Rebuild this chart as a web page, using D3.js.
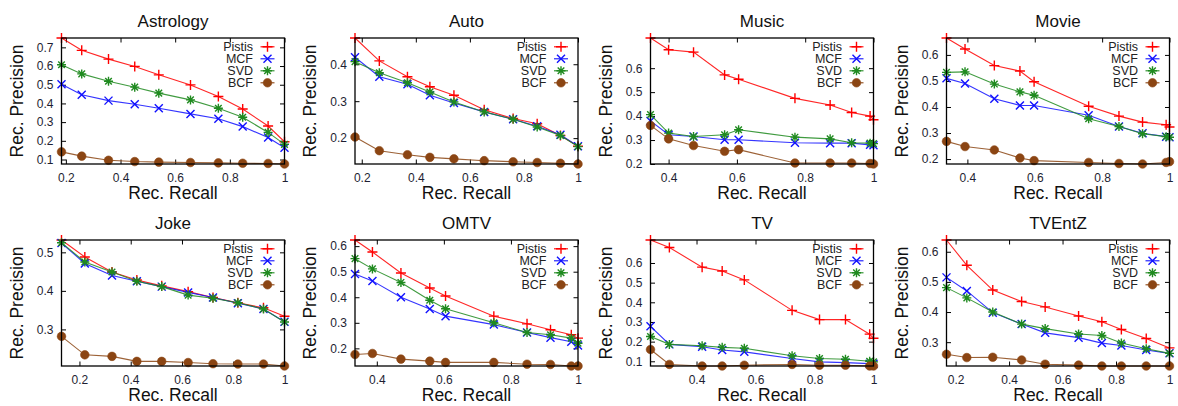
<!DOCTYPE html>
<html>
<head>
<meta charset="utf-8">
<script src="https://cdn.jsdelivr.net/npm/d3@7"></script>
<style>
  body { margin: 0; background: #fff; }
  svg text { font-family: "Liberation Sans", Arial, sans-serif; }
</style>
</head>
<body>
<div id="chart"></div>
<script>
// recall (x) per data set, shared by all 4 methods
const astrologyRecall = [0.184, 0.258, 0.356, 0.452, 0.540, 0.656, 0.758, 0.847, 0.940, 1.0];
const astrologyPistis = [0.750, 0.684, 0.637, 0.598, 0.553, 0.499, 0.437, 0.370, 0.279, 0.195];
const astrologyMCF    = [0.503, 0.446, 0.415, 0.396, 0.374, 0.344, 0.318, 0.276, 0.218, 0.163];
const astrologySVD    = [0.607, 0.558, 0.519, 0.487, 0.455, 0.419, 0.374, 0.326, 0.245, 0.181];
const astrologyBCF    = [0.141, 0.118, 0.096, 0.089, 0.086, 0.084, 0.082, 0.080, 0.079, 0.076];

const autoRecall = [0.175, 0.265, 0.369, 0.452, 0.541, 0.653, 0.760, 0.849, 0.935, 1.0];
const autoPistis = [0.471, 0.409, 0.366, 0.339, 0.316, 0.277, 0.253, 0.239, 0.207, 0.178];
const autoMCF    = [0.419, 0.366, 0.346, 0.316, 0.295, 0.271, 0.251, 0.232, 0.209, 0.178];
const autoSVD    = [0.407, 0.377, 0.350, 0.325, 0.298, 0.271, 0.251, 0.230, 0.207, 0.177];
const autoBCF    = [0.203, 0.166, 0.155, 0.148, 0.144, 0.139, 0.136, 0.134, 0.132, 0.130];

const musicRecall = [0.347, 0.400, 0.473, 0.564, 0.605, 0.770, 0.873, 0.936, 0.990, 1.0];
const musicPistis = [0.726, 0.677, 0.667, 0.572, 0.554, 0.474, 0.446, 0.415, 0.400, 0.385];
const musicMCF    = [0.380, 0.322, 0.315, 0.301, 0.301, 0.289, 0.287, 0.287, 0.280, 0.278];
const musicSVD    = [0.406, 0.329, 0.315, 0.322, 0.343, 0.312, 0.305, 0.289, 0.287, 0.285];
const musicBCF    = [0.361, 0.305, 0.277, 0.253, 0.260, 0.204, 0.204, 0.204, 0.202, 0.200];

const movieRecall = [0.338, 0.393, 0.480, 0.556, 0.598, 0.760, 0.850, 0.920, 0.990, 1.0];
const moviePistis = [0.665, 0.623, 0.559, 0.538, 0.497, 0.403, 0.365, 0.342, 0.332, 0.323];
const movieMCF    = [0.510, 0.490, 0.432, 0.406, 0.406, 0.368, 0.325, 0.299, 0.286, 0.284];
const movieSVD    = [0.533, 0.535, 0.488, 0.458, 0.445, 0.355, 0.325, 0.297, 0.286, 0.284];
const movieBCF    = [0.268, 0.248, 0.235, 0.204, 0.194, 0.187, 0.183, 0.181, 0.187, 0.190];

const jokeRecall = [0.130, 0.221, 0.327, 0.424, 0.521, 0.624, 0.721, 0.818, 0.918, 1.0];
const jokePistis = [0.532, 0.488, 0.449, 0.428, 0.413, 0.398, 0.383, 0.369, 0.356, 0.334];
const jokeMCF    = [0.524, 0.471, 0.440, 0.425, 0.411, 0.396, 0.383, 0.368, 0.353, 0.320];
const jokeSVD    = [0.525, 0.475, 0.449, 0.425, 0.411, 0.389, 0.381, 0.369, 0.353, 0.319];
const jokeBCF    = [0.282, 0.234, 0.230, 0.217, 0.217, 0.214, 0.211, 0.210, 0.210, 0.205];

const omtvRecall = [0.335, 0.387, 0.472, 0.558, 0.605, 0.749, 0.848, 0.918, 0.980, 1.0];
const omtvPistis = [0.624, 0.577, 0.495, 0.436, 0.405, 0.326, 0.296, 0.273, 0.253, 0.240];
const omtvMCF    = [0.491, 0.464, 0.400, 0.354, 0.326, 0.293, 0.262, 0.242, 0.226, 0.211];
const omtvSVD    = [0.551, 0.511, 0.458, 0.388, 0.355, 0.300, 0.262, 0.253, 0.240, 0.220];
const omtvBCF    = [0.176, 0.180, 0.158, 0.150, 0.145, 0.145, 0.138, 0.137, 0.131, 0.131];

const tvRecall = [0.244, 0.308, 0.419, 0.487, 0.562, 0.724, 0.817, 0.905, 0.987, 1.0];
const tvPistis = [0.717, 0.679, 0.579, 0.559, 0.514, 0.359, 0.312, 0.312, 0.238, 0.217];
const tvMCF    = [0.278, 0.186, 0.174, 0.157, 0.148, 0.114, 0.097, 0.093, 0.088, 0.088];
const tvSVD    = [0.226, 0.186, 0.179, 0.171, 0.166, 0.128, 0.114, 0.110, 0.100, 0.097];
const tvBCF    = [0.160, 0.084, 0.076, 0.076, 0.080, 0.084, 0.080, 0.080, 0.076, 0.076];

const tventzRecall = [0.166, 0.242, 0.339, 0.447, 0.535, 0.660, 0.747, 0.820, 0.913, 1.0];
const tventzPistis = [0.639, 0.555, 0.473, 0.435, 0.417, 0.387, 0.368, 0.342, 0.312, 0.281];
const tventzMCF    = [0.515, 0.470, 0.398, 0.360, 0.331, 0.315, 0.297, 0.289, 0.274, 0.263];
const tventzSVD    = [0.481, 0.447, 0.400, 0.360, 0.345, 0.327, 0.322, 0.297, 0.278, 0.263];
const tventzBCF    = [0.260, 0.249, 0.250, 0.241, 0.227, 0.224, 0.221, 0.221, 0.221, 0.221];

// tick labels
const xTicksWide   = [0.2, 0.4, 0.6, 0.8, 1];
const xTicksNarrow = [0.4, 0.6, 0.8, 1];
const astrologyYTicks = [0.1, 0.2, 0.3, 0.4, 0.5, 0.6, 0.7];
const autoYTicks      = [0.2, 0.3, 0.4];
const musicYTicks     = [0.2, 0.3, 0.4, 0.5, 0.6];
const movieYTicks     = [0.2, 0.3, 0.4, 0.5, 0.6];
const jokeYTicks      = [0.3, 0.4, 0.5];
const omtvYTicks      = [0.2, 0.3, 0.4, 0.5, 0.6];
const tvYTicks        = [0.1, 0.2, 0.3, 0.4, 0.5, 0.6];
const tventzYTicks    = [0.3, 0.4, 0.5, 0.6];

const methods = ["Pistis", "MCF", "SVD", "BCF"];
const colors  = { Pistis: "#ff0000", MCF: "#1010ff", SVD: "#1f8a1f", BCF: "#8b4513" };

const panels = [
  { title: "Astrology", recall: astrologyRecall, xTicks: xTicksWide,   yTicks: astrologyYTicks, series: [astrologyPistis, astrologyMCF, astrologySVD, astrologyBCF] },
  { title: "Auto",      recall: autoRecall,      xTicks: xTicksWide,   yTicks: autoYTicks,      series: [autoPistis, autoMCF, autoSVD, autoBCF] },
  { title: "Music",     recall: musicRecall,     xTicks: xTicksNarrow, yTicks: musicYTicks,     series: [musicPistis, musicMCF, musicSVD, musicBCF] },
  { title: "Movie",     recall: movieRecall,     xTicks: xTicksNarrow, yTicks: movieYTicks,     series: [moviePistis, movieMCF, movieSVD, movieBCF] },
  { title: "Joke",      recall: jokeRecall,      xTicks: xTicksWide,   yTicks: jokeYTicks,      series: [jokePistis, jokeMCF, jokeSVD, jokeBCF] },
  { title: "OMTV",      recall: omtvRecall,      xTicks: xTicksNarrow, yTicks: omtvYTicks,      series: [omtvPistis, omtvMCF, omtvSVD, omtvBCF] },
  { title: "TV",        recall: tvRecall,        xTicks: xTicksNarrow, yTicks: tvYTicks,        series: [tvPistis, tvMCF, tvSVD, tvBCF] },
  { title: "TVEntZ",    recall: tventzRecall,    xTicks: xTicksWide,   yTicks: tventzYTicks,    series: [tventzPistis, tventzMCF, tventzSVD, tventzBCF] }
];

const W = 1178, H = 406;
const colLeft = [61.5, 355, 650.5, 946.5];
const rowTop = [38, 240];
const plotW = 223, plotH = 126;
const tickLen = 4.5;

const svg = d3.select("#chart").append("svg")
  .attr("width", W).attr("height", H);

// point shapes, gnuplot style
function markerPath(name) {
  const p = "M-5,0H5M0,-5V5";
  const x = "M-4,-4L4,4M-4,4L4,-4";
  if (name === "Pistis") return p;
  if (name === "MCF") return x;
  return "M-4.5,0H4.5M0,-4.5V4.5M-3.3,-3.3L3.3,3.3M-3.3,3.3L3.3,-3.3";
}

function drawMarker(g, name, cx, cy) {
  if (name === "BCF") {
    g.append("circle").attr("cx", cx).attr("cy", cy).attr("r", 4.3)
      .attr("fill", colors.BCF).attr("stroke", colors.BCF).attr("stroke-width", 0.6);
  } else {
    g.append("path").attr("d", markerPath(name))
      .attr("transform", `translate(${cx},${cy})`)
      .attr("fill", "none").attr("stroke", colors[name]).attr("stroke-width", 1.4);
  }
}

panels.forEach((p, i) => {
  const left = colLeft[i % 4], top = rowTop[Math.floor(i / 4)];
  const g = svg.append("g").attr("transform", `translate(${left},${top})`);

  const allY = p.series.flat();
  const x = d3.scaleLinear().domain(d3.extent(p.recall)).range([0, plotW]);
  const y = d3.scaleLinear().domain(d3.extent(allY)).range([plotH, 0]);

  // axes with inward ticks, mirrored on top/right
  const fmt = d3.format("~g");
  const xAxis = g.append("g").attr("transform", `translate(0,${plotH})`)
    .call(d3.axisBottom(x).tickValues(p.xTicks).tickFormat(fmt).tickSizeInner(-tickLen).tickSizeOuter(0).tickPadding(7));
  const yAxis = g.append("g")
    .call(d3.axisLeft(y).tickValues(p.yTicks).tickFormat(fmt).tickSizeInner(-tickLen).tickSizeOuter(0).tickPadding(8));
  g.append("g").call(d3.axisTop(x).tickValues(p.xTicks).tickFormat("").tickSizeInner(-tickLen).tickSizeOuter(0));
  g.append("g").attr("transform", `translate(${plotW},0)`)
    .call(d3.axisRight(y).tickValues(p.yTicks).tickFormat("").tickSizeInner(-tickLen).tickSizeOuter(0));
  g.selectAll(".domain").remove();
  g.selectAll(".tick line").attr("stroke", "#000").attr("stroke-width", 1);
  g.selectAll(".tick text").attr("font-size", 12).attr("fill", "#1e1e32")
    .style("font-family", "'Liberation Sans', Arial, sans-serif");
  xAxis.selectAll(".tick text").attr("dy", "0.9em");

  // series
  const line = d3.line().x((d, k) => x(p.recall[k])).y(d => y(d));
  methods.forEach((m, s) => {
    const vals = p.series[s];
    g.append("path").datum(vals)
      .attr("d", line).attr("fill", "none")
      .attr("stroke", colors[m]).attr("stroke-width", 1.1).attr("stroke-opacity", 0.85);
    const mg = g.append("g");
    vals.forEach((v, k) => drawMarker(mg, m, x(p.recall[k]), y(v)));
  });

  // frame
  g.append("rect").attr("width", plotW).attr("height", plotH)
    .attr("fill", "none").attr("stroke", "#000").attr("stroke-width", 1.3);

  // legend
  methods.forEach((m, s) => {
    const ly = 8.8 + s * 12;
    g.append("text").attr("x", plotW - 31.5).attr("y", ly).attr("dy", "0.35em")
      .attr("text-anchor", "end").attr("font-size", 12.5).attr("fill", "#222")
      .text(m);
    g.append("line").attr("x1", plotW - 24).attr("x2", plotW - 10).attr("y1", ly).attr("y2", ly)
      .attr("stroke", colors[m]).attr("stroke-width", 1.1);
    drawMarker(g, m, plotW - 17, ly);
  });

  // titles
  g.append("text").attr("x", plotW / 2).attr("y", -11).attr("text-anchor", "middle")
    .attr("font-size", 17).attr("fill", "#111").text(p.title);
  g.append("text").attr("x", plotW / 2).attr("y", plotH + 35).attr("text-anchor", "middle")
    .attr("font-size", 17.5).attr("fill", "#111").text("Rec. Recall");
  g.append("text").attr("transform", `translate(-39,${plotH / 2}) rotate(-90)`)
    .attr("text-anchor", "middle").attr("font-size", 17.5).attr("fill", "#111")
    .text("Rec. Precision");
});
</script>
</body>
</html>
